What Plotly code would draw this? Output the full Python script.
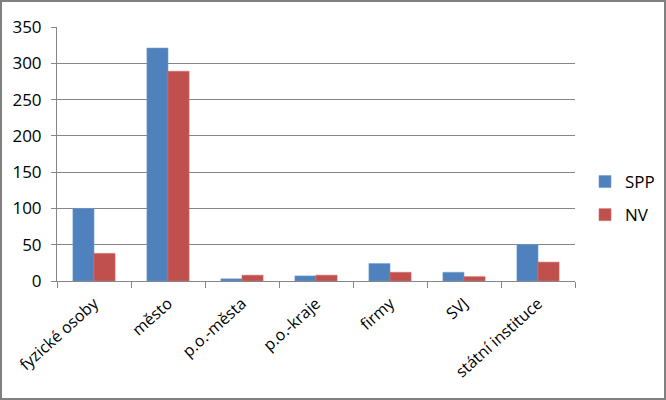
import plotly.graph_objects as go

categories = ["fyzické osoby", "město", "p.o.-města", "p.o.-kraje", "firmy", "SVJ", "státní instituce"]
spp = [100, 321, 3, 7, 24, 12, 50]
nv = [38, 289, 8, 8, 12, 6, 26]
y_ticks = [0, 50, 100, 150, 200, 250, 300, 350]

W, H = 666, 400
L, R, T, B = 57, 91, 27, 119
pw, ph = W - L - R, H - T - B

fig = go.Figure()
fig.add_trace(go.Bar(name="SPP", x=categories, y=spp, marker=dict(color="#4F81BD", line=dict(color="#6f9bd1", width=0.6)), legendgroup="a"))
fig.add_trace(go.Bar(name="NV", x=categories, y=nv, marker=dict(color="#C0504D", line=dict(color="#d46b68", width=0.6)), legendgroup="b"))

font = "Open Sans, Noto Sans, sans-serif"
fig.update_layout(
    width=W, height=H,
    margin=dict(l=L, r=R, t=T, b=B, pad=0, autoexpand=False),
    paper_bgcolor="white", plot_bgcolor="white",
    barmode="group", bargap=0.43, bargroupgap=0,
    font=dict(family=font, size=15, color="black"),
    showlegend=True,
    legend=dict(x=(585 - L) / pw, y=(ph - (164 - T)) / ph, xanchor="left", yanchor="top",
                traceorder="grouped", tracegroupgap=8, font=dict(size=17),
                itemwidth=30, bgcolor="rgba(0,0,0,0)"),
    xaxis=dict(type="category", tickangle=-42, tickson="boundaries", ticks="outside",
               ticklen=6, tickcolor="#868686", showline=True, linecolor="#868686", linewidth=1,
               showgrid=False, automargin=False, ticklabelstandoff=6,
               tickfont=dict(size=16, family=font)),
    yaxis=dict(range=[0, 350], tickvals=y_ticks, ticks="outside", ticklen=5, tickcolor="#868686",
               showline=True, linecolor="#868686", linewidth=1, showgrid=True, gridcolor="#868686",
               gridwidth=1, zeroline=False, automargin=False, ticklabelstandoff=6,
               tickfont=dict(size=17, family=font)),
    shapes=[dict(type="rect", xref="paper", yref="paper",
                 x0=(-L + 1) / pw, x1=(W - L - 1) / pw, y0=(-B + 1) / ph, y1=(H - B - 1) / ph,
                 line=dict(color="#808080", width=2), layer="above")],
)

fig.write_html("out.html", config={"displayModeBar": False},
               post_script="document.body.style.margin='0';document.body.style.overflow='hidden';")
